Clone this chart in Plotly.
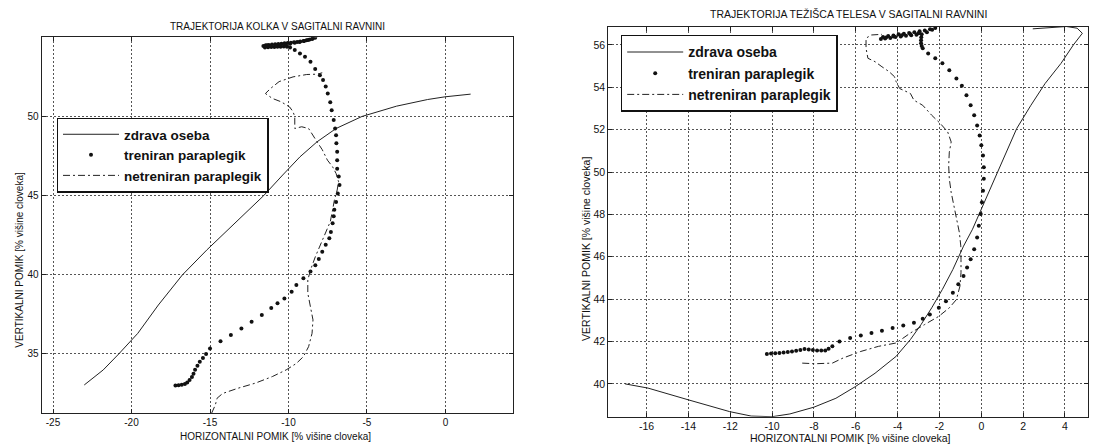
import plotly.graph_objects as go

# ---------------- data: left panel (hip trajectory) ----------------
L_zdrava_x = [-23.01, -21.8, -20.81, -19.6, -18.29, -16.75, -15.21, -13.45, -11.58, -10.37,
              -9.27, -8.18, -6.97, -5.32, -3.12, -1.14, -0.04, 1.6]
L_zdrava_y = [33.04, 33.99, 35.0, 36.3, 38.09, 40.0, 41.56, 43.25, 45.0, 46.3,
              47.45, 48.4, 49.24, 50.0, 50.65, 51.07, 51.24, 51.41]

L_treniran_x = [-17.2, -17.0, -16.8, -16.6, -16.45, -16.3, -16.15, -16.05, -15.95, -15.8,
                -15.65, -15.45, -15.25, -15.0, -14.33, -13.67, -13.0, -12.35, -11.7, -11.1,
                -10.7, -10.26, -9.8, -9.5, -9.05, -8.6, -8.29, -8.07, -7.85, -7.63,
                -7.4, -7.3, -7.19, -7.12, -7.08, -6.97, -6.86, -6.75, -6.8, -6.9,
                -6.9, -6.9, -6.95, -6.97, -7.03, -7.12, -7.25, -7.34, -7.5, -7.63,
                -7.8, -8.0, -8.3, -8.6, -8.95, -9.27, -9.6, -9.9,
                -10.1, -10.3, -10.5, -10.7, -10.9, -11.1, -11.3, -11.5, -11.6, -11.45,
                -11.25, -11.05, -10.85, -10.65, -10.45, -10.25, -10.05, -9.85, -9.65, -9.45,
                -9.25, -9.05, -8.85, -8.65, -8.45, -8.3, -8.5, -8.75, -9.0, -9.3,
                -9.6, -9.9, -10.2, -10.5, -10.8, -11.1, -11.35]
L_treniran_y = [33.0, 33.02, 33.05, 33.1, 33.2, 33.35, 33.55, 33.75, 34.0, 34.25,
                34.5, 34.75, 35.0, 35.35, 35.8, 36.2, 36.6, 37.04, 37.46, 37.9,
                38.2, 38.5, 38.93, 39.35, 39.78, 40.2, 40.6, 41.0, 41.46, 41.9,
                42.3, 42.7, 43.25, 43.7, 44.1, 44.6, 45.14, 45.67, 46.2, 46.7,
                47.24, 47.77, 48.3, 48.82, 49.24, 49.77, 50.4, 50.9, 51.45, 51.9,
                52.3, 52.6, 53.0, 53.45, 53.77, 53.98, 54.19, 54.36,
                54.4, 54.42, 54.41, 54.4, 54.39, 54.38, 54.37, 54.36, 54.45, 54.5,
                54.52, 54.54, 54.56, 54.58, 54.6, 54.62, 54.64, 54.66, 54.68, 54.71,
                54.74, 54.77, 54.81, 54.86, 54.92, 54.97, 54.9, 54.83, 54.76, 54.7,
                54.65, 54.6, 54.56, 54.52, 54.49, 54.47, 54.5]

L_netreniran_x = [-14.9, -14.66, -14.55, -14.2, -13.23, -12.13, -11.03, -10.15, -9.5, -9.05,
                  -8.72, -8.5, -8.44, -8.6, -8.77, -8.77, -8.6, -8.29, -7.96, -7.63,
                  -7.34, -7.19, -7.08, -6.9, -6.81, -6.97, -7.19, -7.52, -7.85, -8.18,
                  -8.5, -8.72, -9.16, -9.6, -9.6, -9.71, -9.93, -10.48, -11.03, -11.47,
                  -11.14, -10.6, -9.71, -8.84, -8.18, -7.85]
L_netreniran_y = [31.25, 31.78, 32.2, 32.5, 32.83, 33.15, 33.57, 33.99, 34.4, 34.83,
                  35.46, 36.3, 37.15, 38.0, 38.83, 39.67, 40.3, 41.14, 41.88, 42.6,
                  43.35, 44.1, 44.7, 45.35, 45.88, 46.4, 46.82, 47.24, 47.9, 48.4,
                  48.93, 49.24, 49.35, 49.24, 49.98, 50.3, 50.6, 50.93, 51.14, 51.45,
                  51.77, 52.2, 52.5, 52.65, 52.67, 52.76]

# ---------------- data: right panel (body centre of mass) ----------------
R_zdrava_x = [-17.03, -15.93, -13.98, -12.03, -11.0, -10.0, -9.15, -8.0, -6.95, -6.02,
              -5.08, -4.07, -3.39, -2.88, -2.37, -1.86, -1.36, -0.85, -0.42, 0.0,
              0.34, 0.76, 1.19, 1.69, 2.37, 3.05, 3.81, 4.4, 4.83, 4.58,
              4.07, 3.22, 2.46]
R_zdrava_y = [40.0, 39.8, 39.24, 38.69, 38.48, 38.45, 38.58, 38.9, 39.32, 39.87,
              40.5, 41.3, 42.09, 42.8, 43.59, 44.46, 45.4, 46.5, 47.3, 48.25,
              49.04, 50.0, 50.94, 52.05, 53.15, 54.18, 55.13, 56.0, 56.55, 56.79,
              56.87, 56.82, 56.76]

R_treniran_x = [-10.25, -10.05, -9.85, -9.65, -9.45, -9.25, -9.05, -8.85, -8.65, -8.45,
                -8.25, -8.05, -7.85, -7.65, -7.46, -7.3, -7.12, -6.78, -6.27, -5.76,
                -5.25, -4.75, -4.24, -3.73, -3.22, -2.8, -2.46, -2.03, -1.69, -1.36,
                -1.1, -0.85, -0.68, -0.51, -0.34, -0.2, -0.12, -0.03, 0.03, 0.08,
                0.12, 0.12, 0.08, 0.0, -0.08, -0.2, -0.34, -0.51, -0.71, -0.93,
                -1.19, -1.53, -1.86, -2.2, -2.54, -2.8, -2.85, -2.88, -2.88, -2.87,
                -2.85, -3.1, -3.35, -3.6, -3.85, -4.1, -4.35, -4.6, -4.8, -4.7,
                -4.45, -4.2, -3.95, -3.7, -3.45, -3.2, -2.95, -2.7, -2.45, -2.2,
                -2.35, -2.6, -3.0, -3.4, -3.8, -4.2, -4.55]
R_treniran_y = [41.41, 41.43, 41.45, 41.46, 41.48, 41.5, 41.53, 41.56, 41.6, 41.64,
                41.62, 41.6, 41.58, 41.57, 41.58, 41.66, 41.77, 42.0, 42.17, 42.28,
                42.4, 42.51, 42.64, 42.75, 42.88, 43.07, 43.27, 43.59, 43.9, 44.3,
                44.7, 45.09, 45.49, 45.88, 46.36, 46.91, 47.46, 48.02, 48.57, 49.12,
                49.68, 50.23, 50.78, 51.26, 51.73, 52.2, 52.68, 53.15, 53.63, 54.07,
                54.42, 54.81, 55.13, 55.37, 55.6, 55.84, 55.95, 56.08, 56.22, 56.36,
                56.5, 56.48, 56.46, 56.43, 56.4, 56.37, 56.33, 56.3, 56.28, 56.38,
                56.42, 56.45, 56.5, 56.53, 56.56, 56.6, 56.64, 56.68, 56.74, 56.8,
                56.72, 56.6, 56.55, 56.52, 56.46, 56.4, 56.35]

R_netreniran_x = [-8.56, -7.97, -7.12, -6.61, -5.76, -4.92, -4.07, -3.39, -2.71, -2.03,
                  -1.53, -1.19, -1.02, -0.97, -0.97, -0.98, -1.05, -1.19, -1.32, -1.44,
                  -1.53, -1.56, -1.53, -1.44, -1.61, -1.95, -2.37, -2.8, -3.22, -3.39,
                  -3.9, -4.07, -4.15, -4.41, -4.75, -5.08, -5.42, -5.51, -5.51, -5.25,
                  -4.75]
R_netreniran_y = [40.98, 40.95, 40.98, 41.22, 41.53, 41.77, 41.93, 42.4, 42.8, 43.19,
                  43.59, 43.98, 44.62, 45.25, 45.88, 46.51, 47.15, 47.78, 48.41, 49.04,
                  49.68, 50.31, 50.94, 51.42, 51.9, 52.28, 52.68, 53.15, 53.39, 53.71,
                  53.94, 54.26, 54.5, 54.74, 54.97, 55.21, 55.37, 55.84, 56.32, 56.47,
                  56.5]

# ---------------- ticks and texts ----------------
L_xticks = [-25, -20, -15, -10, -5, 0]
L_xticklabels = ["-25", "-20", "-15", "-10", "-5", "0"]
L_yticks = [35, 40, 45, 50]
L_yticklabels = ["35", "40", "45", "50"]
R_xticks = [-16, -14, -12, -10, -8, -6, -4, -2, 0, 2, 4]
R_xticklabels = ["-16", "-14", "-12", "-10", "-8", "-6", "-4", "-2", "0", "2", "4"]
R_yticks = [40, 42, 44, 46, 48, 50, 52, 54, 56]
R_yticklabels = ["40", "42", "44", "46", "48", "50", "52", "54", "56"]

series_names = ["zdrava oseba", "treniran paraplegik", "netreniran paraplegik"]
title_left = "TRAJEKTORIJA KOLKA V SAGITALNI RAVNINI"
title_right = "TRAJEKTORIJA TEŽIŠCA TELESA V SAGITALNI RAVNINI"
xlabel = "HORIZONTALNI POMIK [% višine cloveka]"
ylabel = "VERTIKALNI POMIK [% višine cloveka]"

FONT = "Liberation Sans, Arial, sans-serif"
INK = "#222222"
DASHDOT = "7px,3px,2px,3px"
W, H = 1097, 445

fig = go.Figure()

# left panel traces
fig.add_trace(go.Scatter(x=L_zdrava_x, y=L_zdrava_y, mode="lines", name=series_names[0],
                         line=dict(color=INK, width=1), xaxis="x", yaxis="y", legend="legend"))
fig.add_trace(go.Scatter(x=L_treniran_x, y=L_treniran_y, mode="markers", name=series_names[1],
                         marker=dict(color="#111111", size=4), xaxis="x", yaxis="y", legend="legend"))
fig.add_trace(go.Scatter(x=L_netreniran_x, y=L_netreniran_y, mode="lines", name=series_names[2],
                         line=dict(color=INK, width=1, dash=DASHDOT),
                         xaxis="x", yaxis="y", legend="legend"))
# right panel traces
fig.add_trace(go.Scatter(x=R_zdrava_x, y=R_zdrava_y, mode="lines", name=series_names[0],
                         line=dict(color=INK, width=1), xaxis="x2", yaxis="y2", legend="legend2"))
fig.add_trace(go.Scatter(x=R_treniran_x, y=R_treniran_y, mode="markers", name=series_names[1],
                         marker=dict(color="#111111", size=4), xaxis="x2", yaxis="y2", legend="legend2"))
fig.add_trace(go.Scatter(x=R_netreniran_x, y=R_netreniran_y, mode="lines", name=series_names[2],
                         line=dict(color=INK, width=1, dash=DASHDOT),
                         xaxis="x2", yaxis="y2", legend="legend2"))

# panel boxes (pixels)
Lbox = (41.7, 513.0, 37.3, 413.3)   # left, right, top, bottom
Rbox = (608.3, 1088.0, 26.5, 416.7)

def xd(b):
    return [b[0] / W, b[1] / W]

def yd(b):
    return [1 - b[3] / H, 1 - b[2] / H]

axis_common = dict(showline=True, linecolor=INK, linewidth=1, mirror="ticks",
                   ticks="inside", ticklen=4, tickcolor=INK, tickwidth=1,
                   showgrid=True, gridcolor="#555555", griddash="2px,2px", gridwidth=1,
                   zeroline=False, automargin=False, tickmode="array")

legend_common = dict(xanchor="left", yanchor="top", bgcolor="white",
                     bordercolor="#111111", borderwidth=1.5, itemwidth=56,
                     tracegroupgap=0)

fig.update_layout(
    width=W, height=H,
    margin=dict(l=0, r=0, t=0, b=0),
    paper_bgcolor="white", plot_bgcolor="white",
    font=dict(family=FONT, color="#111111"),
    xaxis=dict(domain=xd(Lbox), range=[-25.72, 4.3], anchor="y",
               tickvals=L_xticks, ticktext=L_xticklabels, tickfont=dict(size=10), **axis_common),
    yaxis=dict(domain=yd(Lbox), range=[31.25, 55.0], anchor="x",
               tickvals=L_yticks, ticktext=L_yticklabels, tickfont=dict(size=10), **axis_common),
    xaxis2=dict(domain=xd(Rbox), range=[-17.83, 5.1], anchor="y2",
                tickvals=R_xticks, ticktext=R_xticklabels, tickfont=dict(size=10.5), **axis_common),
    yaxis2=dict(domain=yd(Rbox), range=[38.45, 56.87], anchor="x2",
                tickvals=R_yticks, ticktext=R_yticklabels, tickfont=dict(size=10.5), **axis_common),
    legend=dict(x=56.5 / W, y=1 - 117.5 / H,
                font=dict(size=13.5, family=FONT, color="#111111", weight="bold"),
                **legend_common),
    legend2=dict(x=620.7 / W, y=1 - 34.9 / H,
                 font=dict(size=14, family=FONT, color="#111111", weight="bold"),
                 **legend_common),
    showlegend=True,
)

ann = []
ann.append(dict(text=title_left, x=(Lbox[0] + Lbox[1]) / 2 / W, y=1 - 26 / H,
                font=dict(size=10)))
ann.append(dict(text=title_right, x=(Rbox[0] + Rbox[1]) / 2 / W, y=1 - 13.5 / H,
                font=dict(size=10.5)))
ann.append(dict(text=xlabel, x=275 / W, y=1 - 436 / H, font=dict(size=10)))
ann.append(dict(text=xlabel, x=850 / W, y=1 - 438 / H, font=dict(size=10.5)))
ann.append(dict(text=ylabel, x=18.7 / W, y=1 - 260 / H, textangle=-90, font=dict(size=10)))
ann.append(dict(text=ylabel, x=585.3 / W, y=1 - 248.6 / H, textangle=-90, font=dict(size=10.5)))
for a in ann:
    a.update(xref="paper", yref="paper", showarrow=False, xanchor="center", yanchor="middle")
    a["font"].update(family=FONT, color="#111111")
fig.update_layout(annotations=ann)

fig.write_html("out.html",
               config={"displayModeBar": False},
               post_script="document.body.style.margin='0px';document.body.style.overflow='hidden';")
